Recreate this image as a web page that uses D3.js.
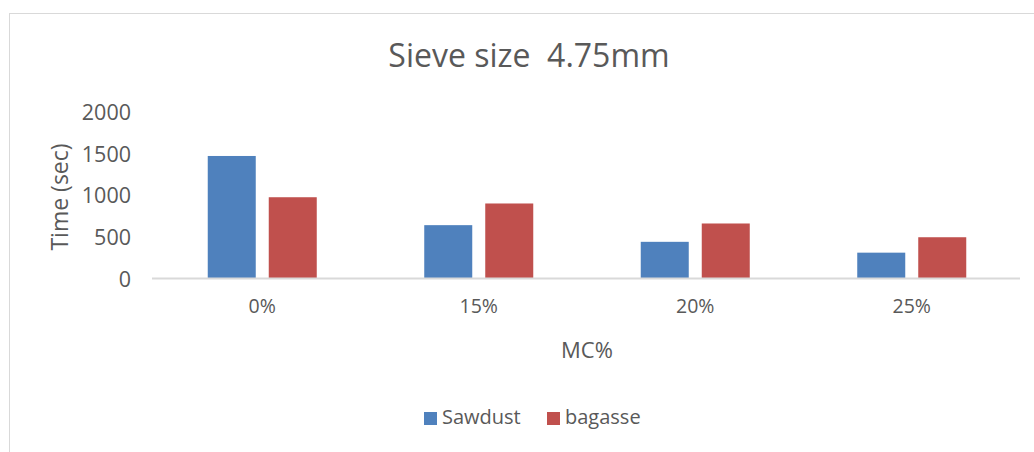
<!DOCTYPE html>
<html><head><meta charset="utf-8">
<script src="https://cdn.jsdelivr.net/npm/d3@7"></script>
<style>
html,body{margin:0;padding:0;background:#fff;}
svg{display:block;font-family:"Open Sans",sans-serif;}
</style></head>
<body><svg id="c" width="1034" height="452"></svg>
<script>
const categories = ["0%", "15%", "20%", "25%"];
const seriesNames = ["Sawdust", "bagasse"];
const sawdust = [1470, 640, 440, 310];
const bagasse = [975, 900, 660, 495];
const yTicks = [0, 500, 1000, 1500, 2000];
const colors = ["#4F81BD", "#C0504D"];
const values = [sawdust, bagasse];

const svg = d3.select("#c");
const textCol = "#595959";

// chart border
svg.append("rect").attr("x", 9.5).attr("y", 13.5).attr("width", 1060).attr("height", 460)
  .attr("fill", "#fff").attr("stroke", "#d9d9d9").attr("stroke-width", 1);

const x0 = d3.scaleBand().domain(categories).range([154, 1020]);
const x1 = d3.scaleBand().domain(seriesNames).range([0, x0.bandwidth()])
  .paddingInner(0.2131).paddingOuter(0.881);
const y = d3.scaleLinear().domain([0, 2000]).range([278.5, 111.8]);

// bars
const g = svg.append("g");
categories.forEach((c, i) => {
  seriesNames.forEach((s, j) => {
    g.append("rect")
      .attr("x", x0(c) + x1(s))
      .attr("y", y(values[j][i]))
      .attr("width", x1.bandwidth())
      .attr("height", y(0) - y(values[j][i]))
      .attr("fill", colors[j]);
  });
});

// x axis line
svg.append("line").attr("x1", 152).attr("x2", 1020).attr("y1", 278.5).attr("y2", 278.5)
  .attr("stroke", "#d9d9d9").attr("stroke-width", 2);

// y axis
const ya = svg.append("g").attr("transform", "translate(154,0)")
  .call(d3.axisLeft(y).tickValues(yTicks).tickSize(0).tickPadding(23).tickFormat(d3.format("d")));
ya.select(".domain").remove();
ya.selectAll("text").attr("fill", textCol).style("font-size", "21.5px").style("font-family", "'Open Sans',sans-serif").attr("dy", "0.35em");

// x axis labels
const xa = svg.append("g").attr("transform", "translate(0,278.5)")
  .call(d3.axisBottom(x0).tickSize(0).tickPadding(21));
xa.select(".domain").remove();
xa.selectAll("text").attr("fill", textCol).style("font-size", "19.5px").style("font-family", "'Open Sans',sans-serif");

// titles
svg.append("text").attr("x", 529).attr("y", 58).attr("text-anchor", "middle").attr("dominant-baseline", "middle")
  .attr("fill", textCol).style("font-size", "32px").attr("xml:space", "preserve").text("Sieve size  4.75mm");
svg.append("text").attr("x", 587).attr("y", 352).attr("text-anchor", "middle").attr("dominant-baseline", "middle")
  .attr("fill", textCol).style("font-size", "22px").text("MC%");
svg.append("text").attr("transform", "translate(62,197) rotate(-90)").attr("text-anchor", "middle").attr("dominant-baseline", "middle")
  .attr("fill", textCol).style("font-size", "23px").text("Time (sec)");

// legend
const leg = svg.append("g");
const legX = [424, 547];
seriesNames.forEach((s, j) => {
  leg.append("rect").attr("x", legX[j]).attr("y", 412).attr("width", 13).attr("height", 13).attr("fill", colors[j]);
  leg.append("text").attr("x", legX[j] + 18).attr("y", 419).attr("dominant-baseline", "middle")
    .attr("fill", textCol).style("font-size", "20px").text(s);
});
</script></body></html>
